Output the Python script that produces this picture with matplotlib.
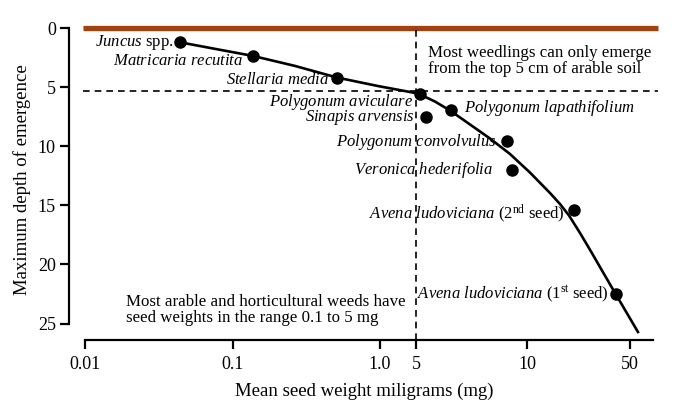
import matplotlib
matplotlib.use("Agg")
import matplotlib.pyplot as plt
import numpy as np

plt.rcParams['font.family'] = ['Liberation Serif', 'DejaVu Serif']
plt.rcParams['mathtext.fontset'] = 'custom'
plt.rcParams['mathtext.rm'] = 'Liberation Serif'
plt.rcParams['mathtext.it'] = 'Liberation Serif:italic'
plt.rcParams['mathtext.bf'] = 'Liberation Serif:bold'

# ---- data ----
species = [r"$\mathit{Juncus}$ spp.",
           r"$\mathit{Matricaria\ recutita}$",
           r"$\mathit{Stellaria\ media}$",
           r"$\mathit{Polygonum\ aviculare}$",
           r"$\mathit{Sinapis\ arvensis}$",
           r"$\mathit{Polygonum\ lapathifolium}$",
           r"$\mathit{Polygonum\ convolvulus}$",
           r"$\mathit{Veronica\ hederifolia}$",
           r"$\mathit{Avena\ ludoviciana}$ (2$^{\mathrm{nd}}$ seed)",
           r"$\mathit{Avena\ ludoviciana}$ (1$^{\mathrm{st}}$ seed)"]
seed_weight = [0.0439, 0.137, 0.508, 1.87, 2.05, 3.02, 7.25, 7.91, 20.8, 39.8]
max_depth = [1.21, 2.36, 4.25, 5.57, 7.49, 6.93, 9.52, 12.05, 15.37, 22.49]

curve_x = [0.0439, 0.0770, 0.137, 0.265, 0.510, 0.969, 1.81, 2.36, 2.99,
           4.08, 5.58, 7.63, 10.43, 14.26, 16.67, 19.19, 22.79, 27.07,
           32.15, 38.17, 56.4]
curve_y = [1.21, 1.78, 2.36, 3.21, 4.19, 4.91, 5.54, 6.22, 6.98,
           8.16, 9.35, 10.66, 12.23, 13.96, 14.89, 15.86, 17.34, 18.91,
           20.52, 22.12, 25.72]

x_tick_pos = [0.01, 0.1, 1.0, 1.755, 10, 50]
x_tick_labels = ["0.01", "0.1", "1.0", "5", "10", "50"]
y_ticks = [0, 5, 10, 15, 20, 25]

surface_depth = 0
threshold_depth = 5.32
threshold_weight = 1.755

# label offsets in pixels (dx, dy) and alignment
offsets = [(-6, 0), (-10, -5), (-7, -2), (-7, -8), (-11, -1),
           (13, 2), (-10, -1), (-19, 0), (-9, -4), (-7, 0)]
aligns = ['right'] * 5 + ['left'] + ['right'] * 4

# ---- figure ----
W, H = 680, 413
fig = plt.figure(figsize=(W / 100, H / 100), dpi=100)
ax = fig.add_axes([69 / W, (H - 340) / H, (660 - 69) / W, (340 - 20) / H])
ax.set_xscale('log')
ax.set_xlim(10 ** ((69 - 380) / 147.3), 10 ** ((660 - 380) / 147.3))
ax.set_ylim((340 - 28) / 11.82, (20 - 28) / 11.82)

# surface line
ax.plot([10 ** ((83 - 380) / 147.3), 10 ** ((658 - 380) / 147.3)],
        [surface_depth, surface_depth], color='#A5400F', lw=3.8,
        solid_capstyle='butt', zorder=2)
# dashed thresholds
ax.plot([10 ** ((83 - 380) / 147.3), 10 ** ((658 - 380) / 147.3)],
        [threshold_depth, threshold_depth], color='black', lw=1.2,
        dashes=(4, 3), zorder=2)
ax.plot([threshold_weight, threshold_weight], [0.17, ax.get_ylim()[0]],
        color='black', lw=1.2, dashes=(4, 3), zorder=2)

# curve and points
ax.plot(curve_x, curve_y, color='black', lw=1.9, zorder=3,
        solid_joinstyle='round')
ax.plot(seed_weight, max_depth, 'o', color='black', ms=8, zorder=4)

for lab, x, y, (dx, dy), ha in zip(species, seed_weight, max_depth, offsets, aligns):
    ax.annotate(lab, (x, y), xytext=(dx, dy), textcoords='offset pixels',
                ha=ha, va='center', fontsize=12, zorder=5)

ax.text(428 / W, 1 - 61 / H, "Most weedlings can only emerge\nfrom the top 5 cm of arable soil",
        transform=fig.transFigure, ha='left', va='center', fontsize=12.2,
        linespacing=1.05)
ax.text(126 / W, 1 - 310 / H, "Most arable and horticultural weeds have\nseed weights in the range 0.1 to 5 mg",
        transform=fig.transFigure, ha='left', va='center', fontsize=12.2,
        linespacing=1.05)

# axes styling
for s in ['top', 'right']:
    ax.spines[s].set_visible(False)
ax.spines['left'].set_bounds(0, 25)
ax.spines['bottom'].set_bounds(0.01, 10 ** ((653 - 380) / 147.3))
for s in ['left', 'bottom']:
    ax.spines[s].set_linewidth(1.6)
ax.set_yticks(y_ticks)
ax.set_yticklabels([str(v) for v in y_ticks])
ax.set_xticks(x_tick_pos)
ax.set_xticklabels(x_tick_labels)
ax.xaxis.set_minor_locator(matplotlib.ticker.NullLocator())
ax.tick_params(axis='both', direction='out', length=6.5, width=1.6,
               labelsize=13, pad=3)
ax.tick_params(axis='x', pad=5)

ax.set_ylabel("Maximum depth of emergence", fontsize=13.5, labelpad=5)
ax.set_xlabel("Mean seed weight miligrams (mg)", fontsize=13.5, labelpad=7)

fig.savefig("out.png", dpi=100)
